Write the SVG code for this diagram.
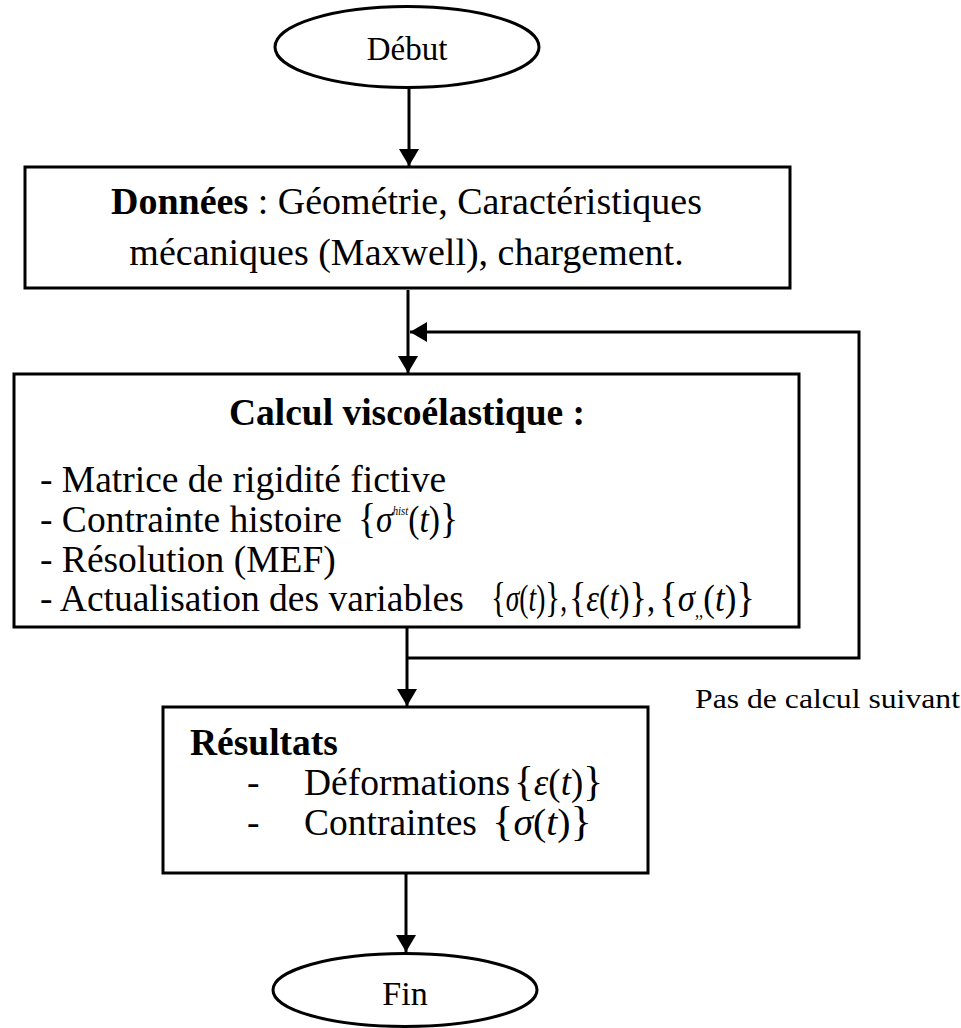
<svg xmlns="http://www.w3.org/2000/svg" width="961" height="1028" viewBox="0 0 961 1028">
<style>
.t{font-family:"Liberation Serif","Times New Roman",serif;fill:#000}
.b{font-weight:bold}
.i{font-style:italic}
.br{font-size:42px}
.box{fill:#fff;stroke:#000;stroke-width:3}
.conn{stroke:#000;stroke-width:3;fill:none}
</style>
<defs>
<marker id="ah" markerUnits="userSpaceOnUse" markerWidth="18" markerHeight="20" refX="17" refY="10" orient="auto">
<path d="M0,0 L17,10 L0,20 z" fill="#000"/>
</marker>
</defs>
<rect width="961" height="1028" fill="#fff"/>
<g id="connectors">
<line class="conn" x1="409" y1="88" x2="409" y2="166" marker-end="url(#ah)"/>
<line class="conn" x1="408" y1="290" x2="408" y2="373" marker-end="url(#ah)"/>
<polyline class="conn" points="407,658 859,658 859,332 410,332" marker-end="url(#ah)"/>
<line class="conn" x1="407" y1="628" x2="407" y2="706" marker-end="url(#ah)"/>
<line class="conn" x1="406" y1="873" x2="406" y2="952" marker-end="url(#ah)"/>
<text class="t" x="695" y="708" font-size="27" textLength="265" lengthAdjust="spacingAndGlyphs">Pas de calcul suivant</text>
</g>
<g id="debut">
<ellipse cx="407" cy="47" rx="132" ry="40.5" fill="#fff" stroke="#000" stroke-width="3"/>
<text class="t" x="407" y="60" font-size="33" text-anchor="middle">Début</text>
</g>
<g id="donnees">
<rect class="box" x="25" y="167" width="765" height="121"/>
<text class="t" x="406.5" y="214" font-size="38" text-anchor="middle"><tspan class="b">Données</tspan> : Géométrie, Caractéristiques</text>
<text class="t" x="406.5" y="265" font-size="38" text-anchor="middle">mécaniques (Maxwell), chargement.</text>
</g>
<g id="calcul">
<rect class="box" x="14" y="374" width="785" height="253"/>
<text class="t b" x="407" y="425" font-size="37.5" text-anchor="middle">Calcul viscoélastique :</text>
<text class="t" x="40" y="492" font-size="37.5">- Matrice de rigidité fictive</text>
<text class="t" x="40" y="532" font-size="37.5">- Contrainte histoire</text>
<text class="t" x="358" y="532" font-size="37.5" textLength="100" lengthAdjust="spacingAndGlyphs"><tspan class="br">{</tspan><tspan class="i">σ</tspan><tspan class="i" font-size="12" dy="-17">hist</tspan><tspan dy="17">(</tspan><tspan class="i">t</tspan>)<tspan class="br">}</tspan></text>
<text class="t" x="40" y="572" font-size="37.5">- Résolution (MEF)</text>
<text class="t" x="40" y="611" font-size="37.5">- Actualisation des variables</text>
<text class="t" x="491" y="611" font-size="37.5" textLength="76" lengthAdjust="spacingAndGlyphs"><tspan class="br">{</tspan><tspan class="i">σ</tspan>(<tspan class="i">t</tspan>)<tspan class="br">}</tspan>,</text>
<text class="t" x="569" y="611" font-size="37.5" textLength="86" lengthAdjust="spacingAndGlyphs"><tspan class="br">{</tspan><tspan class="i">ε</tspan>(<tspan class="i">t</tspan>)<tspan class="br">}</tspan>,</text>
<text class="t" x="659" y="611" font-size="37.5" textLength="96" lengthAdjust="spacingAndGlyphs"><tspan class="br">{</tspan><tspan class="i">σ</tspan><tspan class="i" font-size="18" dy="6">,,</tspan><tspan dy="-6">(</tspan><tspan class="i">t</tspan>)<tspan class="br">}</tspan></text>
</g>
<g id="resultats">
<rect class="box" x="163" y="707" width="485" height="166"/>
<text class="t b" x="190" y="755" font-size="37.5">Résultats</text>
<text class="t" x="247" y="795" font-size="37.5">-</text>
<text class="t" x="304" y="795" font-size="37.5">Déformations</text>
<text class="t" x="514" y="795" font-size="37.5" textLength="89" lengthAdjust="spacingAndGlyphs"><tspan class="br">{</tspan><tspan class="i">ε</tspan>(<tspan class="i">t</tspan>)<tspan class="br">}</tspan></text>
<text class="t" x="247" y="835" font-size="37.5">-</text>
<text class="t" x="304" y="835" font-size="37.5">Contraintes</text>
<text class="t" x="492" y="835" font-size="37.5" textLength="100" lengthAdjust="spacingAndGlyphs"><tspan class="br">{</tspan><tspan class="i">σ</tspan>(<tspan class="i">t</tspan>)<tspan class="br">}</tspan></text>
</g>
<g id="fin">
<ellipse cx="405" cy="990" rx="132" ry="36.5" fill="#fff" stroke="#000" stroke-width="3"/>
<text class="t" x="405" y="1005" font-size="34" text-anchor="middle">Fin</text>
</g>
</svg>
